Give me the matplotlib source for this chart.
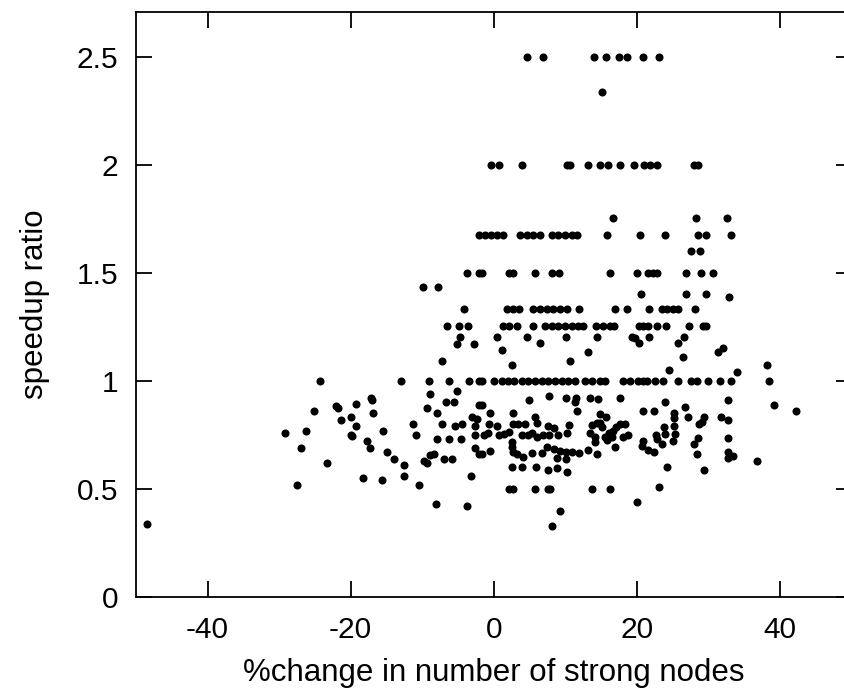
import matplotlib
matplotlib.use("Agg")
import matplotlib.pyplot as plt

# points lying on the discrete speedup levels (y level -> x values)
row_levels = [2.5, 2.0, 1.675, 1.5, 1.333, 1.255, 1.0, 0.5]
row_x = [
    [4.7, 6.9, 14.0, 15.7, 17.5, 18.6, 20.9, 23.1],
    [-0.4, 0.7, 3.9, 10.2, 10.6, 13.2, 14.9, 16.0, 17.7, 19.6, 21.0, 21.9, 22.8, 28.0, 28.5],
    [-2.0, -1.2, -0.4, 0.5, 1.3, 3.6, 4.6, 5.5, 6.4, 8.1, 9.0, 9.9, 10.9, 11.7, 15.8, 20.5,
     23.9, 28.5, 29.6, 33.1],
    [-3.8, -2.1, -1.7, 2.1, 2.7, 5.7, 8.1, 9.1, 16.2, 20.0, 21.6, 22.3, 22.8, 26.9, 28.9, 30.7],
    [-4.15, 1.8, 2.7, 3.5, 5.5, 6.4, 7.4, 8.3, 9.2, 10.2, 11.9, 16.9, 18.6, 21.7, 23.5, 24.2,
     25.0, 25.8, 28.1],
    [-6.5, -4.85, -3.6, 1.3, 2.1, 3.2, 5.5, 7.1, 8.1, 9.0, 9.9, 10.9, 11.8, 12.5, 14.3, 15.3,
     16.2, 16.8, 20.3, 20.9, 21.5, 22.8, 24.1, 27.3, 29.3, 29.7],
    [-24.3, -12.9, -9.0, -6.3, -3.45, -2.0, -1.7, 0.1, 1.1, 2.0, 2.9, 3.9, 4.8, 5.7, 6.7, 7.6,
     8.5, 9.5, 10.4, 11.3, 12.7, 13.7, 14.8, 15.5, 18.0, 19.0, 20.2, 20.9, 21.4, 22.5, 23.7,
     25.8, 27.5, 28.35, 30.0, 31.6, 33.1, 38.4],
    [2.1, 2.7, 5.7, 7.6, 7.9, 13.8, 16.2],
]

# remaining scattered points
pts_x = [
    -25.1, -29.2, -26.3, -26.9, -23.3, -27.5, -48.5,
    -9.9, -7.8, -4.7, -5.2, -2.8, -7.3, -8.95, -5.2, -17.1, -17.0, -22.1, -21.8, -19.3,
    -6.7, -5.55, -2.1, -9.3, -8.0, -16.9, -20.0, -21.3, -3.0, -2.4, -19.3, -11.3, -7.2,
    -5.45, -4.5, -2.6, -15.5, -20.0, -19.8, -10.9, -2.6, -7.9, -6.3, -4.6, -17.7, -17.3,
    -2.65, -2.1, -14.9, -14.0, -12.5, -9.8, -9.3, -8.35, -8.95, -6.95, -5.8, -12.5, -18.3,
    -15.6, -10.4, -3.2, -8.1, -3.8,
    15.15, 16.7, 28.2, 32.6, 27.6, 28.8, 20.6, 26.8, 29.7, 32.9,
    0.5, 4.6, 10.1, 14.45, 6.5, 1.1, 13.2, 10.6, 2.5,
    4.9, 7.7, 10.1, 11.5, 11.3, 13.4, 14.6, -1.6, 11.7, -0.55, 2.7, 14.8, 15.7, 5.7, 6.05,
    -0.65, 0.5, 2.7, 3.4, 4.3, 7.6, 8.4, 10.5, 13.7, 14.4, 15.1, 13.4, 14.1, 15.5, 15.8,
    -1.4, -0.8, 0.8, 1.5, 2.2, 3.9, 4.8, 5.4, 6.05, 6.9, 7.7, 9.0, 10.2, 2.6, 2.6, 2.7,
    14.1, -0.55, -1.7, 3.2, 4.1, 5.3, 6.7, 7.4, 8.4, 9.2, 10.1, 11.0, 11.9, 13.2, 14.4,
    8.85, 10.1, 2.5, 4.0, 5.9, 7.6, 8.85, 10.25, 9.2, 8.2,
    19.3, 19.7, 21.7, 20.3, 26.6, 25.7, 31.4, 32.0, 26.4, 24.5, 34.0,
    17.7, 23.9, 32.8, 26.7, 20.9, 22.4, 25.2, 25.2, 27.1, 29.4, 29.05, 28.7, 31.75, 32.8,
    14.8, 17.1, 17.6, 18.3, 16.7, 16.1, 23.8, 25.2, 16.5, 16.9, 18.0, 18.8, 22.7, 23.9,
    25.3, 20.9, 20.7, 22.8, 23.5, 25.1, 28.5, 28.0, 32.7, 21.6, 22.4, 28.35, 32.7, 32.7,
    33.4, 24.2, 29.4, 23.1, 20.0,
    38.2, 39.1, 42.3, 36.8,
]
pts_y = [
    0.861, 0.761, 0.770, 0.690, 0.619, 0.519, 0.339,
    1.434, 1.434, 1.204, 1.173, 1.173, 1.093, 0.941, 0.954, 0.920, 0.912, 0.884, 0.874, 0.892,
    0.901, 0.901, 0.890, 0.874, 0.850, 0.850, 0.832, 0.821, 0.833, 0.824, 0.792, 0.801, 0.801,
    0.792, 0.801, 0.793, 0.770, 0.751, 0.745, 0.751, 0.751, 0.730, 0.730, 0.730, 0.722, 0.690,
    0.691, 0.663, 0.671, 0.640, 0.611, 0.630, 0.622, 0.663, 0.656, 0.640, 0.640, 0.559, 0.549,
    0.540, 0.520, 0.559, 0.429, 0.420,
    2.336, 1.753, 1.753, 1.753, 1.603, 1.603, 1.403, 1.403, 1.403, 1.390,
    1.205, 1.205, 1.205, 1.205, 1.175, 1.142, 1.133, 1.093, 1.073,
    0.912, 0.931, 0.923, 0.920, 0.901, 0.920, 0.915, 0.890, 0.861, 0.850, 0.850, 0.847, 0.832,
    0.835, 0.804,
    0.801, 0.792, 0.801, 0.801, 0.801, 0.792, 0.781, 0.795, 0.796, 0.804, 0.786, 0.758, 0.742,
    0.742, 0.727,
    0.750, 0.758, 0.750, 0.753, 0.765, 0.750, 0.750, 0.758, 0.742, 0.750, 0.750, 0.750, 0.758,
    0.719, 0.696, 0.673,
    0.719, 0.677, 0.662, 0.662, 0.650, 0.668, 0.668, 0.696, 0.684, 0.677, 0.673, 0.673, 0.668,
    0.681, 0.662,
    0.642, 0.638, 0.600, 0.600, 0.600, 0.588, 0.596, 0.580, 0.400, 0.329,
    1.205, 1.198, 1.205, 1.175, 1.205, 1.175, 1.133, 1.151, 1.113, 1.052, 1.043,
    0.920, 0.901, 0.912, 0.881, 0.861, 0.861, 0.850, 0.827, 0.832, 0.832, 0.812, 0.800, 0.832,
    0.819,
    0.804, 0.789, 0.801, 0.801, 0.770, 0.761, 0.786, 0.792, 0.742, 0.696, 0.742, 0.750, 0.750,
    0.755,
    0.755, 0.724, 0.700, 0.730, 0.708, 0.722, 0.738, 0.708, 0.735, 0.681, 0.670, 0.662, 0.673,
    0.642,
    0.653, 0.600, 0.589, 0.511, 0.440,
    1.073, 0.890, 0.861, 0.628,
]

x_ticks = [-40, -20, 0, 20, 40]
y_ticks = [0, 0.5, 1, 1.5, 2, 2.5]
y_tick_labels = ["0", "0.5", "1", "1.5", "2", "2.5"]

plt.rcParams['font.family'] = ['Liberation Sans', 'DejaVu Sans']
plt.rcParams['axes.unicode_minus'] = False

fig = plt.figure(figsize=(8.44, 6.95), dpi=100)
# right spine sits just outside the image, like the reference
ax = fig.add_axes([136 / 844, 98 / 695, 715.5 / 844, 585 / 695])

xs = [v for xl in row_x for v in xl] + pts_x
ys = [lev for lev, xl in zip(row_levels, row_x) for _ in xl] + pts_y
ax.plot(xs, ys, 'o', color='black', markersize=5.8, markeredgewidth=0, clip_on=False)

ax.set_xlim(-50, 50)
ax.set_ylim(0, 2.708)
ax.set_xticks(x_ticks)
ax.set_yticks(y_ticks)
ax.set_yticklabels(y_tick_labels)

for s in ax.spines.values():
    s.set_linewidth(1.3)
ax.tick_params(direction='in', length=11.5, width=1.3, top=True, right=True,
               labelsize=21.5)
ax.tick_params(axis='x', pad=14)
ax.tick_params(axis='y', pad=13)

ax.set_xlabel('%change in number of strong nodes', fontsize=22.5, labelpad=10)
ax.set_ylabel('speedup ratio', fontsize=22.5, labelpad=19)

fig.savefig('out.png', dpi=100)
